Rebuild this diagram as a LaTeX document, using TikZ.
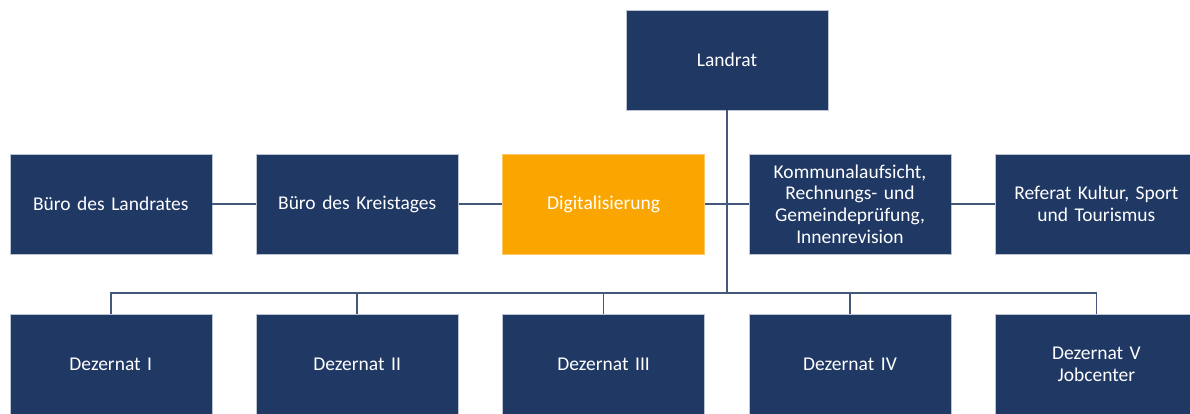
\documentclass[tikz,border=0pt]{standalone}
\usepackage{fontspec}
\setmainfont{Carlito}
\usetikzlibrary{calc}

\definecolor{navy}{HTML}{203864}
\definecolor{amber}{HTML}{FAA500}
\definecolor{wire}{HTML}{44587A}

\tikzset{
	unit/.style={draw=white!70!navy,line width=0.6pt,fill=navy,text=white,minimum width=202pt,minimum height=100pt,inner sep=0pt,text width=196pt,align=center,font=\fontsize{19.5}{21.7}\selectfont},
	digi/.style={unit,fill=amber,draw=amber!60!white},
	wireline/.style={draw=wire,line width=1.7pt}
}

\begin{document}
\begin{tikzpicture}[x=1pt,y=-1pt]
	\useasboundingbox (0,0) rectangle (1190,414);
	\node[unit] (landrat) at (727,60) {Landrat};
	% middle row
	\node[unit] (bl) at (110.8,204) {Büro des Landrates};
	\node[unit] (bk) at (357.2,204) {Büro des Kreistages};
	\node[digi] (dig) at (603.6,204) {Digitalisierung};
	\node[unit] (kom) at (850,204) {Kommunalaufsicht,\\Rechnungs- und\\Gemeindeprüfung,\\Innenrevision};
	\node[unit] (ref) at (1096.4,204) {Referat Kultur, Sport\\und Tourismus};
	% dezernate
	\node[unit] (dz1) at (110.8,364) {Dezernat I};
	\node[unit] (dz2) at (357.2,364) {Dezernat II};
	\node[unit] (dz3) at (603.6,364) {Dezernat III};
	\node[unit] (dz4) at (850,364) {Dezernat IV};
	\node[unit] (dz5) at (1096.4,364) {Dezernat V\\Jobcenter};
	\coordinate (bus) at (727,293);
	\draw[wireline] (landrat.south) -- (bus);
	\draw[wireline] (bl.east) -- (bk.west);
	\draw[wireline] (bk.east) -- (dig.west);
	\draw[wireline] (dig.east) -- (kom.west);
	\draw[wireline] (kom.east) -- (ref.west);
	\draw[wireline] (dz1.north) -- (dz1.north |- bus) -- (dz5.north |- bus) -- (dz5.north);
	\foreach \d in {dz2,dz3,dz4} {
		\draw[wireline] (\d.north) -- (\d.north |- bus);
	}
\end{tikzpicture}
\end{document}
